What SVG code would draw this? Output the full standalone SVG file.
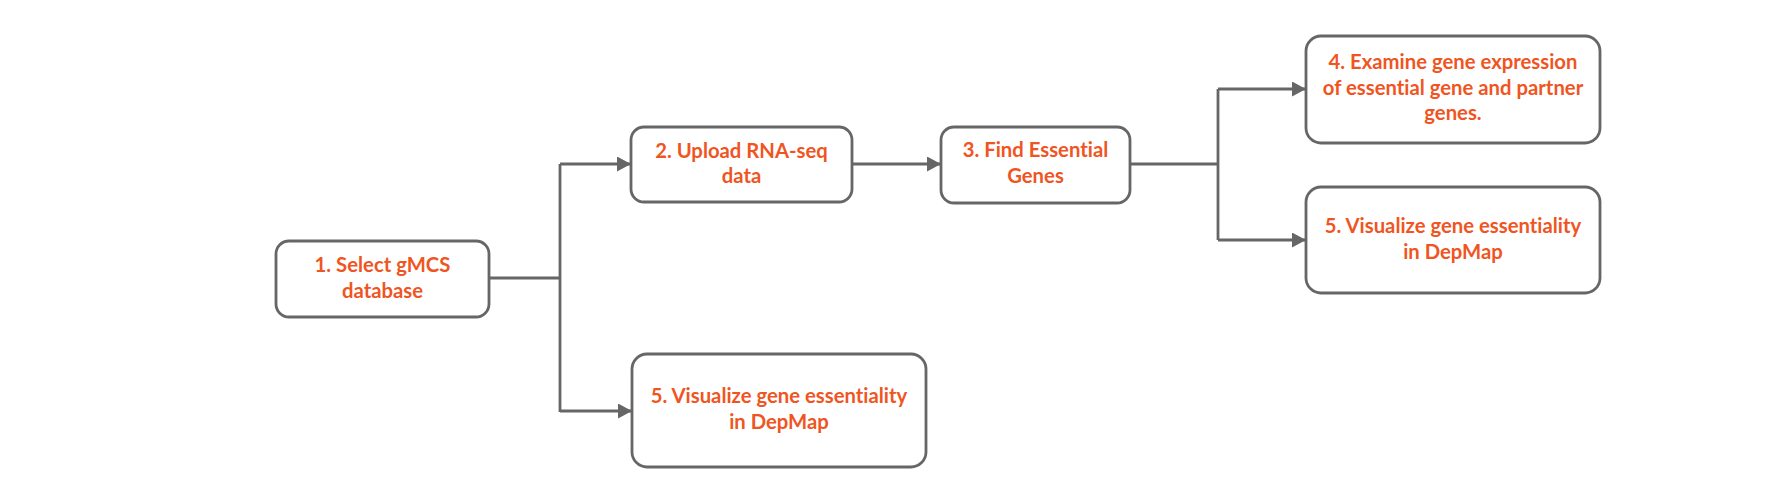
<svg xmlns="http://www.w3.org/2000/svg" width="1792" height="497" viewBox="0 0 1792 497">
<defs>
<style>
.box{fill:#ffffff;stroke:#666666;stroke-width:2.8}
.lbl{font-family:Lato,"Liberation Sans",sans-serif;font-weight:bold;font-size:20.3px;fill:#F0551F;text-anchor:middle;font-variant-ligatures:none}
.con{fill:none;stroke:#666666;stroke-width:2.8}
</style>
<marker id="arr" markerWidth="14" markerHeight="15" viewBox="0 0 14 15" refX="14" refY="7.5" orient="auto" markerUnits="userSpaceOnUse">
<path d="M0,0 L14,7.5 L0,15 Z" fill="#666666"/>
</marker>
</defs>
<rect width="1792" height="497" fill="#ffffff"/>
<g id="connectors">
<path class="con" d="M489,278 H560"/>
<path class="con" d="M560,164 V412"/>
<path class="con" d="M560,164 H631" marker-end="url(#arr)"/>
<path class="con" d="M560,411 H632" marker-end="url(#arr)"/>
<path class="con" d="M852,164 H941" marker-end="url(#arr)"/>
<path class="con" d="M1130,164 H1218"/>
<path class="con" d="M1218,89 V240"/>
<path class="con" d="M1218,89 H1306" marker-end="url(#arr)"/>
<path class="con" d="M1218,240 H1306" marker-end="url(#arr)"/>
</g>
<g id="node1">
<rect class="box" x="276" y="241" width="213" height="76" rx="13"/>
<text class="lbl" x="382.5" y="272">1. Select gMCS</text>
<text class="lbl" x="382.5" y="298">database</text>
</g>
<g id="node2">
<rect class="box" x="631" y="127" width="221" height="75" rx="13"/>
<text class="lbl" x="741.5" y="158">2. Upload RNA-seq</text>
<text class="lbl" x="741.5" y="183">data</text>
</g>
<g id="node3">
<rect class="box" x="941" y="127" width="189" height="76" rx="13"/>
<text class="lbl" x="1035.5" y="157">3. Find Essential</text>
<text class="lbl" x="1035.5" y="183">Genes</text>
</g>
<g id="node4">
<rect class="box" x="1306" y="36" width="294" height="107" rx="15"/>
<text class="lbl" x="1453" y="69">4. Examine gene expression</text>
<text class="lbl" x="1453" y="95">of essential gene and partner</text>
<text class="lbl" x="1453" y="120">genes.</text>
</g>
<g id="node5a">
<rect class="box" x="1306" y="187" width="294" height="106" rx="15"/>
<text class="lbl" x="1453" y="233">5. Visualize gene essentiality</text>
<text class="lbl" x="1453" y="259">in DepMap</text>
</g>
<g id="node5b">
<rect class="box" x="632" y="354" width="294" height="113" rx="15"/>
<text class="lbl" x="779" y="403">5. Visualize gene essentiality</text>
<text class="lbl" x="779" y="429">in DepMap</text>
</g>
</svg>
